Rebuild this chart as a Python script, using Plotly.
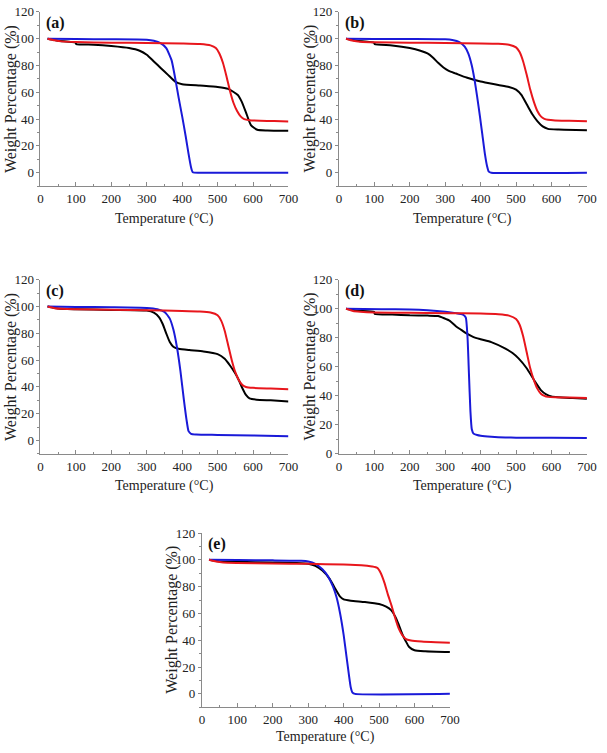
import plotly.graph_objects as go

W, H = 607, 753

# ---------------- data ----------------
# Panel (a)
a_red_T = [20, 40, 60, 100, 200, 300, 400, 450, 480, 495, 505, 515, 525, 535, 545, 555, 565, 575, 590, 620, 660, 700]
a_red_V = [100, 98.8, 98, 97.5, 97, 96.8, 96.4, 96, 95, 93, 89, 82, 72, 61, 52, 46, 42, 40, 39.2, 38.8, 38.5, 38.2]
a_blk_T = [20, 50, 99, 101, 150, 200, 250, 280, 300, 320, 340, 360, 380, 400, 450, 500, 530, 557, 568, 580, 594, 612, 640, 700]
a_blk_V = [100, 98.5, 97, 96, 95.5, 94.5, 93, 91, 88, 83, 78, 73, 68, 66, 65, 64, 62.5, 58, 53, 45, 35.5, 32, 31.5, 31.2]
a_blu_T = [20, 100, 200, 300, 320, 340, 355, 370, 382, 390, 400, 410, 418, 425, 430, 450, 700]
a_blu_V = [100, 99.7, 99.6, 99.3, 98.5, 96.5, 93, 84, 68, 56, 42, 27, 14, 4, 0.3, 0, 0]

# Panel (b)
b_red_T = [20, 40, 60, 100, 200, 300, 400, 450, 480, 500, 510, 520, 530, 540, 550, 560, 570, 580, 590, 610, 650, 700]
b_red_V = [100, 98.5, 97.8, 97.3, 97, 96.8, 96.5, 96.2, 95.5, 93.5, 90, 83, 73, 62, 53, 46, 42, 40.2, 39.5, 39, 38.7, 38.3]
b_blk_T = [20, 50, 99, 101, 150, 200, 230, 250, 265, 280, 295, 310, 330, 360, 400, 450, 480, 500, 515, 530, 545, 560, 575, 590, 620, 700]
b_blk_V = [100, 98.5, 97, 96, 95, 93, 91, 89, 86, 82, 78.5, 76, 74, 71, 68, 65.5, 64, 62, 58, 51, 44, 38.5, 34.5, 32.7, 32.2, 31.7]
b_blu_T = [20, 100, 200, 300, 320, 340, 355, 365, 375, 383, 390, 398, 405, 412, 418, 423, 430, 700]
b_blu_V = [100, 99.8, 99.7, 99.5, 99, 97.5, 94, 89, 80, 69, 57, 42, 28, 14, 5, 0.8, 0, 0]

# Panel (c)
c_red_T = [20, 40, 60, 100, 200, 300, 400, 450, 480, 500, 510, 520, 530, 540, 550, 560, 570, 580, 600, 650, 700]
c_red_V = [100, 98.8, 98.3, 98, 97.6, 97.2, 96.7, 96.3, 95.5, 93.5, 89.5, 82, 71, 60, 51, 45, 41.5, 40, 39.3, 38.8, 38.3]
c_blk_T = [20, 50, 100, 200, 300, 320, 335, 345, 355, 365, 375, 390, 420, 460, 500, 520, 535, 550, 560, 570, 580, 590, 610, 650, 700]
c_blk_V = [100, 98.5, 98, 97.5, 97, 95.5, 92, 87, 80, 73.5, 70, 68.5, 67.5, 66.5, 64.5, 61, 56, 50, 45, 39, 34, 31.5, 30.5, 30, 29.2]
c_blu_T = [20, 100, 200, 300, 330, 350, 365, 375, 385, 395, 405, 412, 418, 425, 440, 500, 600, 700]
c_blu_V = [100, 99.7, 99.5, 99, 98, 96, 91, 83, 70, 52, 30, 16, 7, 5, 4.5, 4.2, 3.7, 3.2]

# Panel (d)
d_red_T = [20, 40, 60, 100, 200, 300, 400, 450, 480, 500, 510, 520, 530, 540, 550, 560, 570, 580, 590, 610, 650, 700]
d_red_V = [100, 98.5, 98, 97.5, 97.2, 97, 96.7, 96.2, 95.3, 93, 89, 81, 70, 59, 51, 45, 41.5, 40, 39.3, 39, 38.8, 38.5]
d_blk_T = [20, 50, 99, 101, 150, 200, 250, 280, 313, 330, 345, 360, 380, 400, 430, 470, 490, 507, 530, 553, 570, 585, 600, 620, 660, 700]
d_blk_V = [100, 98.7, 98, 96.5, 96, 95.5, 95.3, 95, 91.7, 88, 85.5, 83, 80.5, 79, 77, 72.5, 69.5, 65.8, 59, 50, 44, 41, 39.5, 39, 38.5, 38]
d_blu_T = [20, 120, 200, 250, 300, 330, 350, 358, 363, 367, 371, 375, 380, 390, 400, 430, 470, 500, 600, 700]
d_blu_V = [100, 99.7, 99.5, 99, 98, 97, 96, 94, 80, 55, 30, 17, 14, 13, 12.5, 11.8, 11.3, 11.2, 11.1, 10.9]

# Panel (e)
e_red_T = [20, 40, 60, 100, 200, 300, 400, 450, 480, 495, 505, 515, 525, 535, 545, 555, 565, 575, 590, 620, 660, 700]
e_red_V = [100, 98.7, 98, 97.7, 97.3, 97, 96.5, 96, 95, 94, 90, 83, 74, 66, 57, 49, 44, 41, 39.8, 39, 38.5, 38.2]
e_blk_T = [20, 50, 100, 200, 280, 300, 320, 340, 360, 375, 390, 400, 420, 460, 500, 520, 534, 545, 555, 565, 575, 585, 600, 630, 700]
e_blk_V = [100, 98.8, 98.5, 98, 97.5, 97, 95.5, 92, 86, 79, 72.5, 70.5, 69.5, 68.5, 67, 65, 62.5, 58, 52, 45, 39.5, 35, 32.5, 31.8, 31.2]
e_blu_T = [20, 100, 200, 280, 300, 320, 340, 355, 370, 380, 390, 400, 408, 415, 420, 425, 432, 700]
e_blu_V = [100, 99.8, 99.6, 99.3, 98.8, 97, 93, 88, 80, 72, 60, 44, 28, 14, 5, 1, 0, 0]

panel_labels = ["(a)", "(b)", "(c)", "(d)", "(e)"]
y_ranges = [[-10, 120], [-10, 120], [-10, 120], [0, 120], [-10, 120]]
x_title = "Temperature (°C)"
y_title = "Weight Percentage (%)"

panels = [
    (a_red_T, a_red_V, a_blk_T, a_blk_V, a_blu_T, a_blu_V),
    (b_red_T, b_red_V, b_blk_T, b_blk_V, b_blu_T, b_blu_V),
    (c_red_T, c_red_V, c_blk_T, c_blk_V, c_blu_T, c_blu_V),
    (d_red_T, d_red_V, d_blk_T, d_blk_V, d_blu_T, d_blu_V),
    (e_red_T, e_red_V, e_blk_T, e_blk_V, e_blu_T, e_blu_V),
]

# ---------------- layout (pixel boxes of each plot area) ----------------
boxes = [  # left, right, top, bottom in px
    (38.3, 291.7, 5.0, 182.7),
    (343.3, 596.7, 5.0, 182.7),
    (38.3, 291.7, 278.3, 456.0),
    (343.3, 596.7, 278.3, 456.0),
    (203.3, 456.7, 536.7, 714.5),
]
xtitle_offsets = [34, 34, 33, 33, 30]

RED = "#e8161c"
BLUE = "#1a1ad8"
BLACK = "#000000"
FONT = "Liberation Serif, Times New Roman, serif"
AXCOL = "#8a8a8a"

fig = go.Figure()
layout = dict(
    width=W, height=H, autosize=False,
    margin=dict(l=0, r=0, t=0, b=0, pad=0),
    paper_bgcolor="white", plot_bgcolor="white",
    showlegend=False,
    font=dict(family=FONT, size=13, color="#222"),
)
annotations = []

for i, (data, box, lab, yr, xo) in enumerate(zip(panels, boxes, panel_labels, y_ranges, xtitle_offsets)):
    n = i + 1
    xa = "x" if n == 1 else f"x{n}"
    ya = "y" if n == 1 else f"y{n}"
    rT, rV, kT, kV, bT, bV = data
    for T, V, col in ((kT, kV, BLACK), (bT, bV, BLUE), (rT, rV, RED)):
        fig.add_trace(go.Scatter(x=T, y=V, mode="lines", xaxis=xa, yaxis=ya,
                                 line=dict(color=col, width=2, shape="spline", smoothing=0.5),
                                 hoverinfo="skip"))
    l, r, t, b = box
    xd = [l / W, r / W]
    yd = [1 - b / H, 1 - t / H]
    layout["xaxis" if n == 1 else f"xaxis{n}"] = dict(
        domain=xd, anchor=ya, range=[0, 700], dtick=100, tick0=0,
        showline=True, linecolor=AXCOL, linewidth=1, mirror=False,
        ticks="inside", ticklen=4, tickcolor=AXCOL, showgrid=False, zeroline=False,
        minor=dict(dtick=50, ticks="inside", ticklen=2, tickcolor=AXCOL, showgrid=False),
        tickfont=dict(family=FONT, size=13, color="#222"),
    )
    layout["yaxis" if n == 1 else f"yaxis{n}"] = dict(
        domain=yd, anchor=xa, range=yr, tickvals=[0, 20, 40, 60, 80, 100, 120],
        showline=True, linecolor=AXCOL, linewidth=1, mirror=False,
        ticks="outside", ticklen=3, tickcolor=AXCOL, showgrid=False, zeroline=False,
        minor=dict(tickvals=[-10, 10, 30, 50, 70, 90, 110], ticks="outside", ticklen=2,
                   tickcolor=AXCOL, showgrid=False),
        tickfont=dict(family=FONT, size=13, color="#222"),
    )
    # axis titles
    annotations.append(dict(text=x_title, xref="paper", yref="paper",
                            x=(l + r) / 2 / W, y=1 - (b + xo) / H,
                            xanchor="center", yanchor="middle", showarrow=False,
                            font=dict(family=FONT, size=14, color="#222")))
    annotations.append(dict(text=y_title, xref="paper", yref="paper",
                            x=(l - 30) / W, y=1 - ((t + b) / 2) / H, textangle=-90,
                            xanchor="center", yanchor="middle", showarrow=False,
                            font=dict(family=FONT, size=16, color="#222")))
    annotations.append(dict(text=f"<b>{lab}</b>", xref="paper", yref="paper",
                            x=(l + 4) / W, y=1 - (t + 11) / H,
                            xanchor="left", yanchor="middle", showarrow=False,
                            font=dict(family=FONT, size=16, color="#111")))

layout["annotations"] = annotations
fig.update_layout(**layout)
fig.write_html("out.html",
               config={"displayModeBar": False},
               post_script="document.body.style.margin='0px';document.body.style.overflow='hidden';")
